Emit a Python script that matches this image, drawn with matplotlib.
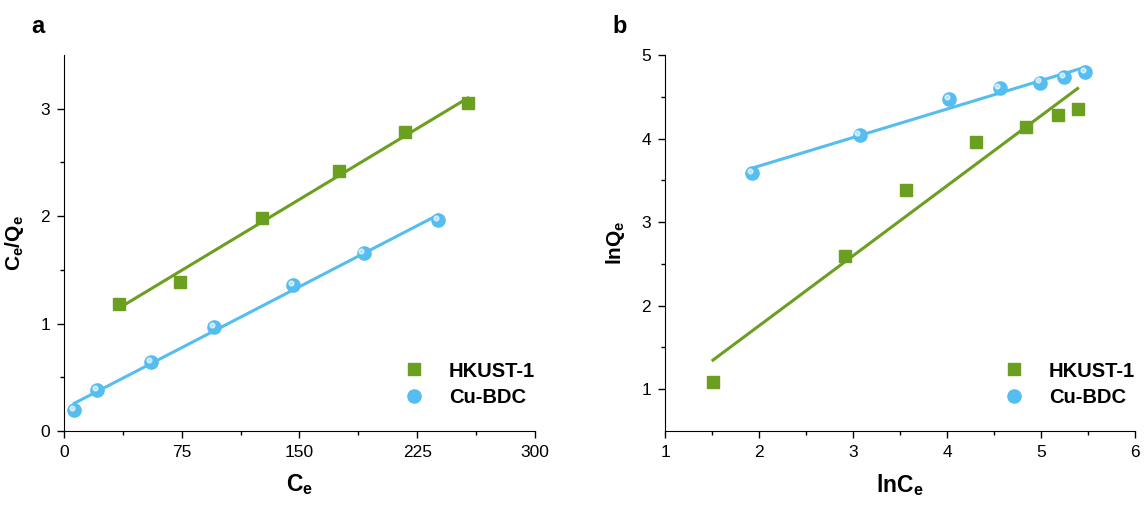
import numpy as np
import matplotlib
matplotlib.use('Agg')
import matplotlib.pyplot as plt
from matplotlib.transforms import ScaledTranslation

plt.rcParams['font.family'] = ['Liberation Sans', 'DejaVu Sans']
plt.rcParams['mathtext.fontset'] = 'custom'
plt.rcParams['mathtext.rm'] = 'Liberation Sans'
plt.rcParams['mathtext.bf'] = 'Liberation Sans:bold'

# panel a: Langmuir (Ce vs Ce/Qe)
a_hk_x = [34.8, 74.1, 125.9, 175.3, 217.4, 257.2]
a_hk_y = [1.18, 1.39, 1.98, 2.42, 2.78, 3.05]
a_cu_x = [6.6, 21.3, 55.6, 95.7, 145.8, 190.8, 238.4]
a_cu_y = [0.195, 0.38, 0.64, 0.97, 1.36, 1.66, 1.96]

# panel b: Freundlich (lnCe vs lnQe)
b_hk_x = [1.51, 2.91, 3.56, 4.31, 4.84, 5.18, 5.39]
b_hk_y = [1.09, 2.59, 3.38, 3.96, 4.14, 4.28, 4.35]
b_cu_x = [1.93, 3.07, 4.02, 4.56, 4.99, 5.25, 5.47]
b_cu_y = [3.59, 4.04, 4.47, 4.60, 4.67, 4.74, 4.80]

green = '#6b9f20'
blue = '#55bdf0'

fig = plt.figure(figsize=(11.46, 5.05), dpi=100)
ax1 = fig.add_axes([0.0558, 0.1465, 0.411, 0.7446])
ax2 = fig.add_axes([0.5803, 0.1465, 0.410, 0.7446])


def draw_panel(ax, hx, hy, cx, cy):
    # linear fits over the data range
    for x, y, col in [(hx, hy, green), (cx, cy, blue)]:
        k, b = np.polyfit(x, y, 1)
        xs = np.array([min(x), max(x)])
        ax.plot(xs, k * xs + b, color=col, lw=2.2, zorder=2)
    ax.plot(hx, hy, 's', color=green, ms=8.5, ls='none', label='HKUST-1', zorder=3)
    ax.plot(cx, cy, 'o', color=blue, ms=9.5, ls='none', label='Cu-BDC', zorder=3)
    # little highlight to mimic the shaded spheres
    off = ScaledTranslation(-1.5 / 72, 1.5 / 72, fig.dpi_scale_trans)
    ax.plot(cx, cy, 'o', color='white', alpha=0.6, ms=3.5, ls='none',
            transform=ax.transData + off, zorder=4)
    for s in ['top', 'right']:
        ax.spines[s].set_visible(False)
    ax.tick_params(which='both', direction='out', labelsize=12.5)
    ax.tick_params(which='major', length=5, width=1, pad=5)
    ax.tick_params(which='minor', length=3, width=1)
    ax.legend(loc='lower right', bbox_to_anchor=(1.0, 0.065), frameon=False,
              prop={'weight': 'bold', 'size': 14.5}, borderpad=0,
              borderaxespad=0, handlelength=1.5, handletextpad=1.0,
              labelspacing=0.35)


draw_panel(ax1, a_hk_x, a_hk_y, a_cu_x, a_cu_y)
ax1.set_xlim(0, 300)
ax1.set_ylim(0, 3.5)
ax1.set_xticks([0, 75, 150, 225, 300])
ax1.set_xticks([37.5, 112.5, 187.5, 262.5], minor=True)
ax1.set_yticks([0, 1, 2, 3])
ax1.set_yticks([0.5, 1.5, 2.5], minor=True)
ax1.set_xlabel(r'$\mathbf{C_e}$', fontsize=16.5, labelpad=9)
ax1.set_ylabel(r'$\mathbf{C_e/Q_e}$', fontsize=15, labelpad=10)
fig.text(0.027, 0.935, 'a', fontsize=17, fontweight='bold')

draw_panel(ax2, b_hk_x, b_hk_y, b_cu_x, b_cu_y)
ax2.set_xlim(1, 6)
ax2.set_ylim(0.5, 5)
ax2.set_xticks([1, 2, 3, 4, 5, 6])
ax2.set_xticks([1.5, 2.5, 3.5, 4.5, 5.5], minor=True)
ax2.set_yticks([1, 2, 3, 4, 5])
ax2.set_yticks([1.5, 2.5, 3.5, 4.5], minor=True)
ax2.set_xlabel(r'$\mathbf{lnC_e}$', fontsize=16.5, labelpad=9)
ax2.set_ylabel(r'$\mathbf{lnQ_e}$', fontsize=15, labelpad=10)
fig.text(0.5345, 0.935, 'b', fontsize=17, fontweight='bold')

fig.savefig('out.png', dpi=100)
